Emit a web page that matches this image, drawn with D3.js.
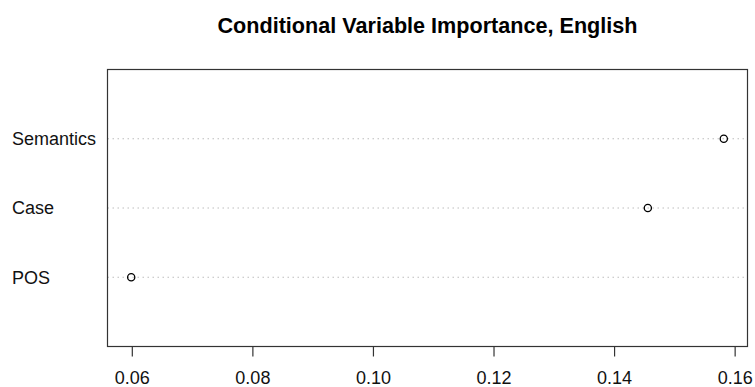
<!DOCTYPE html>
<html>
<head>
<meta charset="utf-8">
<script src="https://cdn.jsdelivr.net/npm/d3@7"></script>
<style>
  body { margin: 0; background: #fff; }
  svg { display: block; font-family: "Liberation Sans", Arial, sans-serif; }
</style>
</head>
<body>
<svg id="chart" width="755" height="387"></svg>
<script>
const title = "Conditional Variable Importance, English";
const variables = ["POS", "Case", "Semantics"];
const importance = [0.0599, 0.1456, 0.1582];
const xTicks = [0.06, 0.08, 0.10, 0.12, 0.14, 0.16];

const svg = d3.select("#chart");
const margin = { top: 69.5, right: 7.5, bottom: 40.5, left: 107.5 };
const width = 755 - margin.left - margin.right;
const height = 387 - margin.top - margin.bottom;

const g = svg.append("g")
  .attr("transform", "translate(" + margin.left + "," + margin.top + ")");

// R style: extend range by 4% each side
const lo = d3.min(importance), hi = d3.max(importance);
const pad = (hi - lo) * 0.04;
const x = d3.scaleLinear().domain([lo - pad, hi + pad]).range([0, width]);
const y = d3.scaleLinear().domain([0, variables.length + 1]).range([height, 0]);

// dotted guide lines
g.selectAll(".guide")
  .data(variables)
  .enter()
  .append("line")
  .attr("class", "guide")
  .attr("x1", 0)
  .attr("x2", width)
  .attr("y1", (d, i) => y(i + 1))
  .attr("y2", (d, i) => y(i + 1))
  .attr("stroke", "#bdbdbd")
  .attr("stroke-width", 1)
  .attr("stroke-dasharray", "1.5,3.5");

// labels on the left
svg.selectAll(".label")
  .data(variables)
  .enter()
  .append("text")
  .attr("class", "label")
  .attr("x", 12)
  .attr("y", (d, i) => margin.top + y(i + 1))
  .attr("dy", "0.35em")
  .style("font-size", "18px")
  .attr("fill", "#111")
  .text(d => d);

// points
g.selectAll(".pt")
  .data(importance)
  .enter()
  .append("circle")
  .attr("class", "pt")
  .attr("cx", d => x(d))
  .attr("cy", (d, i) => y(i + 1))
  .attr("r", 3.6)
  .attr("fill", "none")
  .attr("stroke", "#000")
  .attr("stroke-width", 1.3);

// box
g.append("rect")
  .attr("x", 0)
  .attr("y", 0)
  .attr("width", width)
  .attr("height", height)
  .attr("fill", "none")
  .attr("stroke", "#333")
  .attr("stroke-width", 1.2);

// x axis
const axis = g.append("g")
  .attr("transform", "translate(0," + height + ")")
  .call(d3.axisBottom(x).tickValues(xTicks).tickSize(10).tickPadding(15)
    .tickFormat(d3.format(".2f")));
axis.select(".domain")
  .attr("d", "M" + x(xTicks[0]) + ",0H" + x(xTicks[xTicks.length - 1]))
  .attr("stroke", "#333")
  .attr("stroke-width", 1.2);
axis.selectAll(".tick line").attr("stroke", "#333").attr("stroke-width", 1.2);
axis.selectAll(".tick text")
  .style("font-size", "18px")
  .style("font-family", "Liberation Sans, Arial, sans-serif")
  .attr("fill", "#111");

// title
svg.append("text")
  .attr("x", margin.left + width / 2)
  .attr("y", 33)
  .attr("text-anchor", "middle")
  .style("font-size", "21.6px")
  .style("font-weight", "bold")
  .attr("fill", "#000")
  .text(title);
</script>
</body>
</html>
